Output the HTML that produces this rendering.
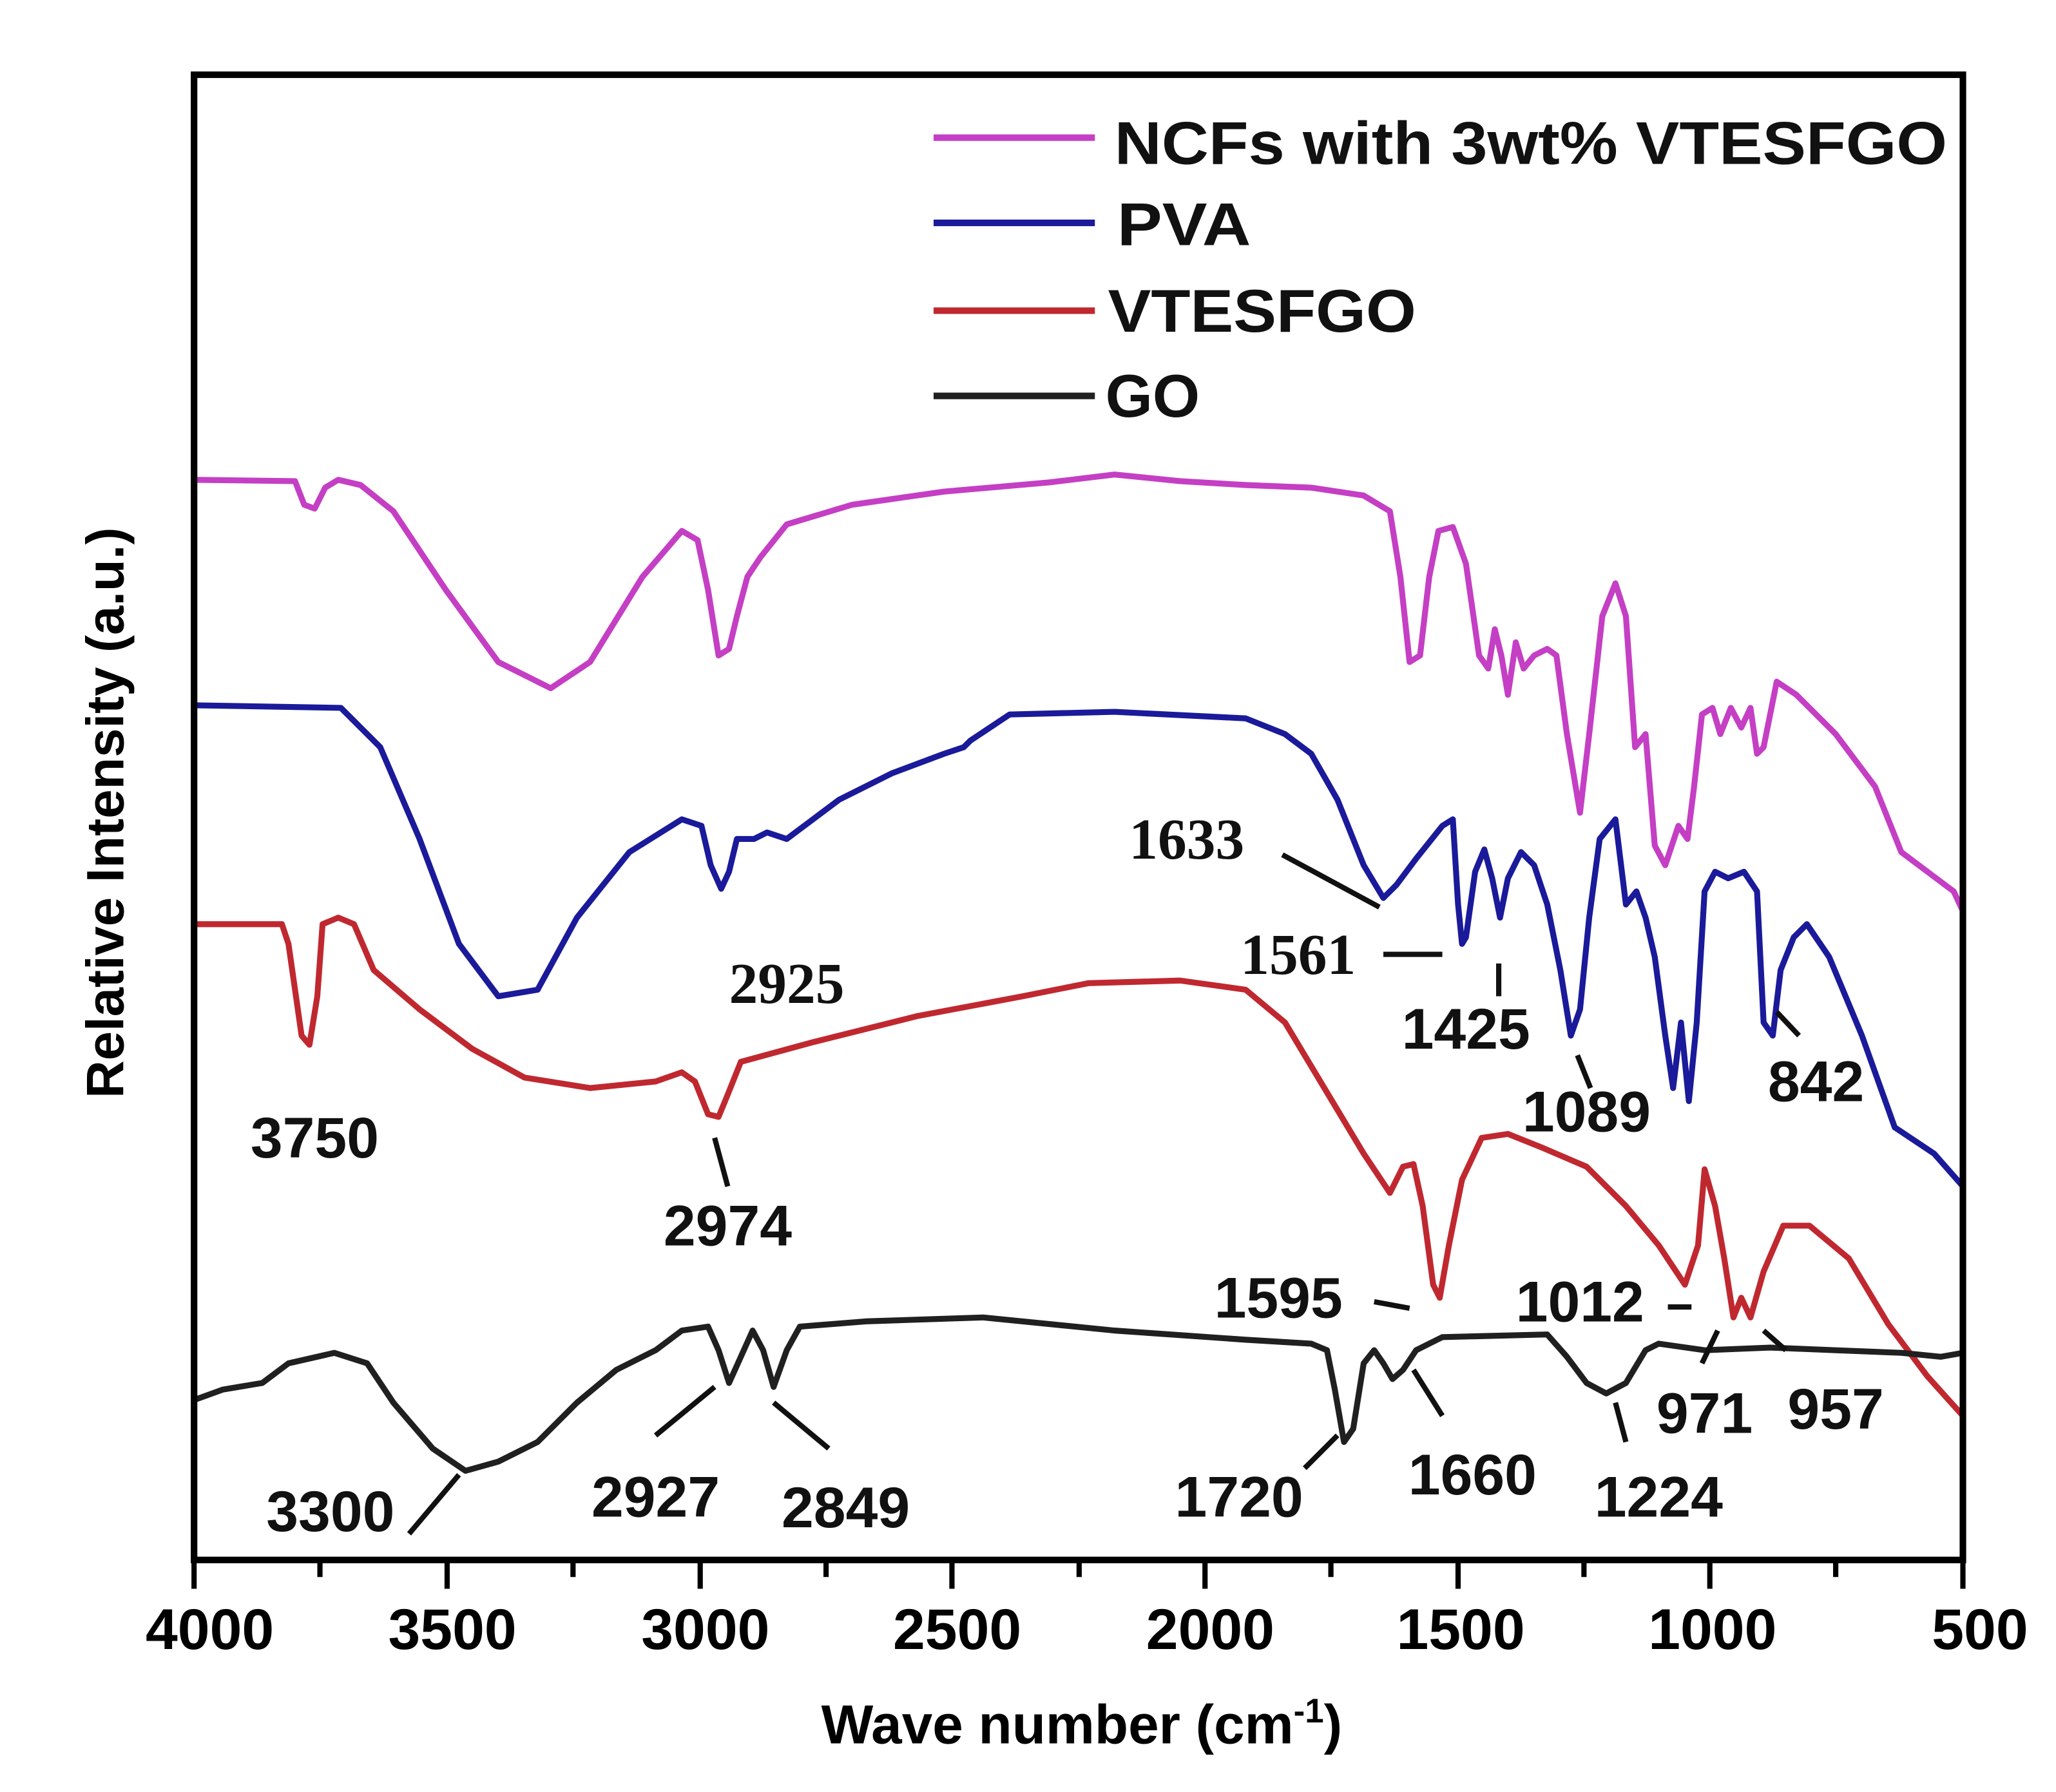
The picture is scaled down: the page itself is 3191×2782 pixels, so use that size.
<!DOCTYPE html>
<html><head><meta charset="utf-8"><style>html,body{margin:0;padding:0;background:#fff}svg{display:block}</style></head>
<body>
<svg width="3191" height="2782" viewBox="0 0 1568 1367" xmlns="http://www.w3.org/2000/svg" font-family="Liberation Sans, sans-serif" font-weight="bold">
<rect width="1568" height="1367" fill="#fff"/>
<g fill="none" stroke-linejoin="round" stroke-linecap="round" stroke-width="4.5">
<polyline stroke="#c43fc4" points="148,366 225,367 232,385 240,388 248,372 258,366 275,370 300,390 340,450 380,505 420,525 450,505 490,440 520,405 532,412 540,450 548,500 556,495 562,470 570,440 580,425 600,400 650,385 720,375 800,368 850,362 900,367 950,370 1000,372 1040,378 1060,390 1068,440 1075,505 1083,500 1090,440 1097,405 1108,402 1118,430 1128,500 1135,510 1140,480 1145,500 1150,530 1156,490 1162,510 1170,500 1180,495 1187,500 1195,560 1205,620 1212,560 1222,470 1232,445 1240,470 1247,570 1255,560 1262,645 1270,660 1280,630 1287,640 1292,600 1298,545 1306,540 1312,560 1320,540 1328,555 1335,540 1340,575 1345,570 1355,520 1370,530 1400,560 1430,600 1450,650 1470,665 1490,680 1497,695"/>
<polyline stroke="#1a1a9a" points="148,538 260,540 290,570 320,640 350,720 380,760 410,755 440,700 480,650 520,625 535,630 542,660 550,678 556,665 562,640 575,640 585,635 600,640 640,610 680,590 720,575 735,570 740,565 770,545 850,543 950,548 980,560 1000,575 1020,610 1040,660 1055,685 1065,675 1080,655 1100,630 1108,625 1112,690 1115,720 1118,715 1125,665 1132,648 1138,670 1144,700 1150,670 1160,650 1170,660 1180,690 1190,740 1198,790 1205,770 1212,700 1220,640 1232,625 1240,690 1248,680 1255,700 1262,730 1270,790 1276,830 1282,780 1288,840 1294,780 1300,680 1308,665 1318,670 1330,665 1340,680 1345,780 1352,790 1358,740 1368,715 1378,705 1395,730 1420,790 1445,860 1475,880 1497,905"/>
<polyline stroke="#c02830" points="148,705 215,705 220,720 230,790 236,797 242,760 246,705 258,700 270,705 285,740 320,770 360,800 400,822 450,830 500,825 520,818 530,825 540,850 548,852 555,835 565,810 620,795 700,775 780,760 830,750 900,748 950,755 980,780 1010,830 1040,880 1060,910 1070,890 1078,888 1085,920 1093,980 1098,990 1105,950 1115,900 1130,868 1150,865 1175,875 1210,890 1240,920 1265,950 1285,980 1295,950 1300,892 1308,920 1315,960 1322,1005 1328,990 1335,1005 1345,970 1360,935 1380,935 1410,960 1440,1010 1470,1050 1497,1080"/>
<polyline stroke="#202020" points="148,1068 170,1060 200,1055 220,1040 255,1032 280,1040 300,1070 330,1105 355,1122 380,1115 410,1100 440,1070 470,1045 500,1030 520,1015 540,1012 548,1030 556,1055 565,1035 574,1015 582,1030 590,1058 600,1030 610,1012 660,1008 750,1005 850,1015 950,1022 1000,1025 1012,1030 1018,1060 1025,1100 1032,1090 1040,1040 1048,1030 1055,1040 1062,1052 1070,1045 1080,1030 1100,1020 1180,1018 1195,1035 1210,1055 1225,1063 1240,1055 1255,1030 1265,1025 1300,1030 1350,1028 1400,1030 1450,1032 1480,1035 1497,1032"/>
</g>
<rect x="148" y="57" width="1349" height="1133" fill="none" stroke="#000" stroke-width="5"/>
<g stroke="#000" stroke-width="4">
<line x1="148" y1="1190" x2="148" y2="1212"/><line x1="341" y1="1190" x2="341" y2="1212"/><line x1="534" y1="1190" x2="534" y2="1212"/><line x1="726" y1="1190" x2="726" y2="1212"/><line x1="919" y1="1190" x2="919" y2="1212"/><line x1="1112" y1="1190" x2="1112" y2="1212"/><line x1="1304" y1="1190" x2="1304" y2="1212"/><line x1="1497" y1="1190" x2="1497" y2="1212"/>
<line x1="244" y1="1190" x2="244" y2="1203"/><line x1="437" y1="1190" x2="437" y2="1203"/><line x1="630" y1="1190" x2="630" y2="1203"/><line x1="823" y1="1190" x2="823" y2="1203"/><line x1="1015" y1="1190" x2="1015" y2="1203"/><line x1="1208" y1="1190" x2="1208" y2="1203"/><line x1="1400" y1="1190" x2="1400" y2="1203"/>
</g>
<g font-size="44" text-anchor="middle" fill="#000">
<text x="160" y="1258">4000</text><text x="345" y="1258">3500</text><text x="538" y="1258">3000</text><text x="730" y="1258">2500</text><text x="923" y="1258">2000</text><text x="1114" y="1258">1500</text><text x="1306" y="1258">1000</text><text x="1510" y="1258">500</text>
</g>
<text x="825" y="1330" font-size="42" text-anchor="middle">Wave number (cm<tspan font-size="26" dy="-16">-1</tspan><tspan dy="16">)</tspan></text>
<text transform="translate(94,620) rotate(-90)" font-size="40" text-anchor="middle">Relative Intensity (a.u.)</text>
<g stroke-width="5">
<line x1="712" y1="105" x2="835" y2="105" stroke="#c43fc4"/>
<line x1="712" y1="170" x2="835" y2="170" stroke="#1a1a9a"/>
<line x1="712" y1="237" x2="835" y2="237" stroke="#c02830"/>
<line x1="712" y1="302" x2="835" y2="302" stroke="#202020"/>
</g>
<g font-size="46" fill="#111">
<text x="850" y="125" textLength="635" lengthAdjust="spacingAndGlyphs">NCFs with 3wt% VTESFGO</text>
<text x="852" y="187" textLength="102" lengthAdjust="spacingAndGlyphs">PVA</text>
<text x="845" y="253" textLength="235" lengthAdjust="spacingAndGlyphs">VTESFGO</text>
<text x="843" y="318" textLength="72" lengthAdjust="spacingAndGlyphs">GO</text>
</g>
<g stroke="#111" stroke-width="4">
<line x1="978" y1="652" x2="1052" y2="692"/><line x1="1055" y1="728" x2="1100" y2="728"/><line x1="1143" y1="735" x2="1143" y2="760"/><line x1="1203" y1="805" x2="1213" y2="830"/><line x1="1355" y1="772" x2="1372" y2="790"/><line x1="545" y1="868" x2="555" y2="905"/><line x1="1048" y1="993" x2="1075" y2="998"/><line x1="1272" y1="997" x2="1290" y2="997"/><line x1="1298" y1="1040" x2="1310" y2="1015"/><line x1="1345" y1="1015" x2="1362" y2="1030"/><line x1="1078" y1="1045" x2="1100" y2="1080"/><line x1="1232" y1="1070" x2="1240" y2="1100"/><line x1="995" y1="1120" x2="1020" y2="1095"/><line x1="312" y1="1170" x2="350" y2="1125"/><line x1="500" y1="1095" x2="545" y2="1058"/><line x1="590" y1="1070" x2="632" y2="1105"/>
</g>
<g font-size="44" text-anchor="middle" fill="#111">
<text font-family="Liberation Serif, serif" x="905" y="655">1633</text>
<text font-family="Liberation Serif, serif" x="990" y="743">1561</text>
<text font-family="Liberation Serif, serif" x="600" y="765">2925</text>
<text x="1118" y="800">1425</text><text x="1210" y="863">1089</text><text x="1385" y="840">842</text>
<text x="240" y="883">3750</text><text x="555" y="950">2974</text><text x="975" y="1005">1595</text><text x="1205" y="1008">1012</text>
<text x="1300" y="1093">971</text><text x="1400" y="1090">957</text><text x="1123" y="1140">1660</text><text x="1265" y="1157">1224</text>
<text x="945" y="1157">1720</text><text x="252" y="1168">3300</text><text x="500" y="1157">2927</text><text x="645" y="1165">2849</text>
</g>
</svg>
</body></html>
